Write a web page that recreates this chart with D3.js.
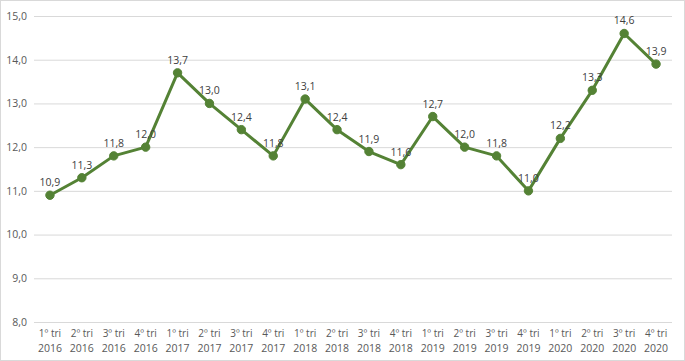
<!DOCTYPE html>
<html><head><meta charset="utf-8">
<script src="https://cdn.jsdelivr.net/npm/d3@7"></script>
<style>body{margin:0;background:#fff}svg{display:block}text{font-family:"Open Sans","Liberation Sans",sans-serif}</style>
</head><body><svg id="c" width="685" height="361"></svg>
<script>
const quarters = ["1º tri","2º tri","3º tri","4º tri","1º tri","2º tri","3º tri","4º tri","1º tri","2º tri","3º tri","4º tri","1º tri","2º tri","3º tri","4º tri","1º tri","2º tri","3º tri","4º tri"];
const years = ["2016","2016","2016","2016","2017","2017","2017","2017","2018","2018","2018","2018","2019","2019","2019","2019","2020","2020","2020","2020"];
const values = [10.9,11.3,11.8,12.0,13.7,13.0,12.4,11.8,13.1,12.4,11.9,11.6,12.7,12.0,11.8,11.0,12.2,13.3,14.6,13.9];
const yTicks = [8,9,10,11,12,13,14,15];

const svg = d3.select("#c");
const W=685,H=361;
svg.append("rect").attr("x",0.5).attr("y",0.5).attr("width",W-1).attr("height",H-1).attr("fill","#fff").attr("stroke","#d9d9d9");
const L=34,R=672,T=16,B=322;
const idx = values.map((d,i)=>i);
const x = d3.scaleBand().domain(idx).range([L,R]);
const y = d3.scaleLinear().domain([8,15]).range([B,T]);
const fmt = v => d3.format(".1f")(v).replace(".",",");

const ya = svg.append("g").attr("transform",`translate(${L},0)`)
  .call(d3.axisLeft(y).tickValues(yTicks).tickSize(-(R-L)).tickFormat(fmt));
ya.select(".domain").remove();
ya.selectAll(".tick line").attr("stroke","#d9d9d9").attr("stroke-width",1);
ya.selectAll(".tick text").attr("x",-7).attr("fill","#595959").style("font-size","10.5px");

const xa = svg.append("g").attr("transform",`translate(0,${B})`)
  .call(d3.axisBottom(x).tickSize(0).tickFormat(""));
xa.select(".domain").remove();
xa.selectAll(".tick").each(function(d){
  const g=d3.select(this);
  g.append("text").attr("y",15).attr("fill","#595959").attr("text-anchor","middle").style("font-size","10px").text(quarters[d]);
  g.append("text").attr("y",30).attr("fill","#595959").attr("text-anchor","middle").style("font-size","10.5px").text(years[d]);
});

const cx = i => x(i)+x.bandwidth()/2;
const color="#548235";
svg.append("path").datum(values)
  .attr("d", d3.line().x((d,i)=>cx(i)).y(d=>y(d)))
  .attr("fill","none").attr("stroke",color).attr("stroke-width",3).attr("stroke-linejoin","round");
svg.selectAll("circle.p").data(values).join("circle")
  .attr("cx",(d,i)=>cx(i)).attr("cy",d=>y(d)).attr("r",4.2)
  .attr("fill",color).attr("stroke",color);
svg.selectAll("text.lbl").data(values).join("text").attr("class","lbl")
  .attr("x",(d,i)=>cx(i)).attr("y",d=>y(d)-9).attr("text-anchor","middle")
  .attr("fill","#404040").style("font-size","10.5px").text(fmt);
</script></body></html>
